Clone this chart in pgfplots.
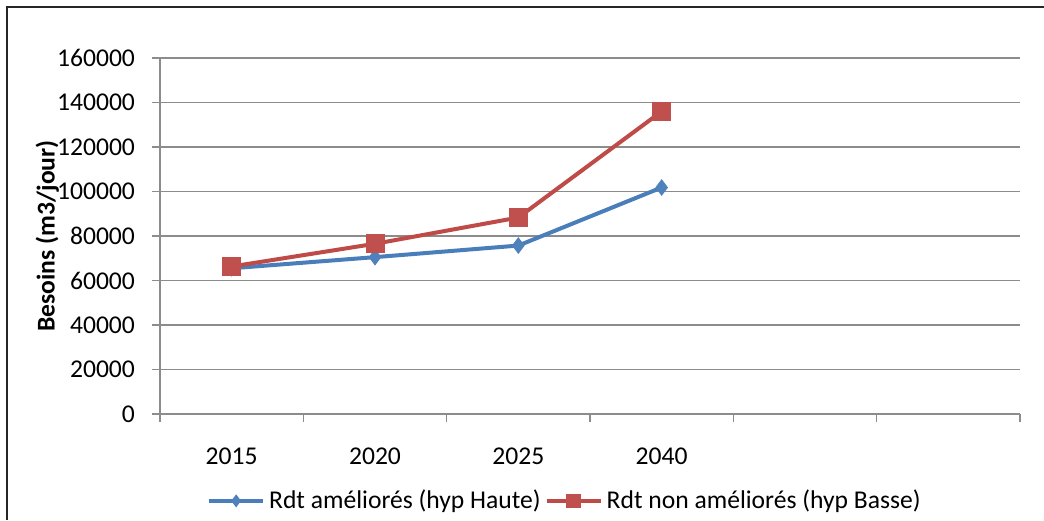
\documentclass[border=0pt]{standalone}
\usepackage{pgfplots}
\pgfplotsset{compat=1.18}
\usepackage{fontspec}
\setmainfont{Carlito}

\definecolor{bleu}{HTML}{4A7EBB}
\definecolor{bleumark}{HTML}{4F81BD}
\definecolor{rouge}{HTML}{BE4B48}
\definecolor{rougemark}{HTML}{C0504D}
\definecolor{grille}{HTML}{8C8C8C}

\newcommand{\txt}{\fontsize{12.8}{15}\selectfont}

\begin{document}
\begin{tikzpicture}
\begin{axis}[
    scale only axis,
    width=430pt, height=178pt,
    xmin=0, xmax=6,
    ymin=0, ymax=160000,
    scaled y ticks=false,
    axis x line*=bottom,
    axis y line*=left,
    axis line style={grille, line width=0.7pt},
    xtick={0.5,1.5,2.5,3.5},
    xticklabels={2015,2020,2025,2040},
    major x tick style={draw=none},
    minor xtick={0,1,2,3,4,5,6},
    ytick={0,20000,40000,60000,80000,100000,120000,140000,160000},
    yticklabels={0,20000,40000,60000,80000,100000,120000,140000,160000},
    tick align=outside,
    major tick length=4pt,
    minor tick length=4pt,
    tick style={grille, line width=0.7pt},
    ymajorgrids,
    grid style={grille, line width=0.7pt},
    tick label style={font=\txt},
    xticklabel style={yshift=-9.5pt},
    yticklabel style={xshift=-5pt},
    ylabel={Besoins (m3/jour)},
    ylabel style={at={(axis description cs:-0.131,0.5)}, anchor=center, font=\txt\bfseries},
    legend style={at={(axis description cs:0.472,-0.244)}, anchor=center,
        draw=none, font=\txt, legend columns=2,
        /tikz/every even column/.append style={column sep=0pt}},
    legend image code/.code={\draw[mark repeat=2,mark phase=2,
        every mark/.append style={scale=0.75}]
        plot coordinates {(0pt,0pt) (13.5pt,0pt) (27pt,0pt)};},
]
\coordinate (sw) at (rel axis cs:0,0);
\coordinate (nw) at (rel axis cs:0,1);
\coordinate (ne) at (rel axis cs:1,1);

\addplot[bleu, line width=2pt, mark=diamond*, mark size=3.8pt,
    mark options={fill=bleumark, draw=bleumark, line width=0.5pt}]
    coordinates {(0.5,65500) (1.5,70500) (2.5,75700) (3.5,101800)};
\addplot[rouge, line width=2pt, mark=square*, mark size=4.5pt,
    mark options={fill=rougemark, draw=rougemark, line width=0.5pt}]
    coordinates {(0.5,66300) (1.5,76500) (2.5,88300) (3.5,136000)};
\legend{Rdt améliorés (hyp Haute), Rdt non améliorés (hyp Basse)}
\end{axis}
\pgfresetboundingbox
\path[use as bounding box] ([xshift=-80pt,yshift=-53pt]sw) rectangle ([xshift=12pt,yshift=29pt]ne);
\draw[line width=1pt, black!85] ([xshift=-76.5pt,yshift=-53pt]sw) -- ([xshift=-76.5pt,yshift=25.5pt]nw) -- ([xshift=12pt,yshift=25.5pt]ne);
\end{tikzpicture}
\end{document}
